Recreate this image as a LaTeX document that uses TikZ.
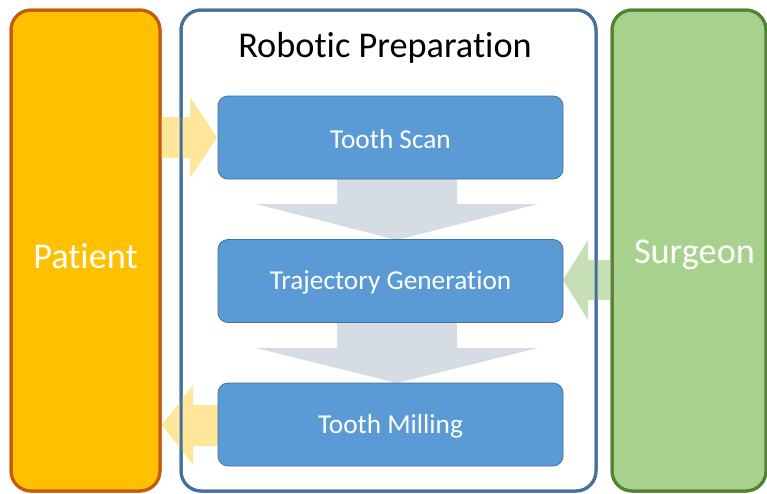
\documentclass[tikz,border=0pt]{standalone}
\usepackage{fontspec}
\setmainfont{Carlito}[RawFeature=-liga]
\definecolor{patfill}{HTML}{FFC000}
\definecolor{patline}{HTML}{C55A11}
\definecolor{surfill}{HTML}{A9D18E}
\definecolor{surline}{HTML}{548235}
\definecolor{boxline}{HTML}{41719C}
\definecolor{stepfill}{HTML}{5B9BD5}
\definecolor{downfill}{HTML}{D6DCE4}
\definecolor{yarrow}{HTML}{FFE699}
\definecolor{garrow}{HTML}{C5E0B4}
\tikzset{
  bigbox/.style={rounded corners=20pt, line width=3pt, inner sep=0pt},
  stepbox/.style={draw=boxline, fill=stepfill, line width=0.8pt, rounded corners=10pt,
    minimum width=345pt, minimum height=83pt, inner sep=0pt, text=white, font=\fontsize{27.3}{30}\selectfont},
  bigtext/.style={font=\fontsize{36.3}{40}\selectfont},
}
\begin{document}
\begin{tikzpicture}[x=1pt,y=-1pt]
\useasboundingbox (0,0) rectangle (767,493);
\begin{scope}
\clip (0,0) rectangle (767,493);
% big boxes
\draw[bigbox, draw=patline, fill=patfill] (11,10) rectangle (160,491);
\draw[bigbox, draw=boxline, fill=white] (181,10) rectangle (596,491);
\draw[bigbox, draw=surline, fill=surfill] (612,10) rectangle (766,491);
\end{scope}
\node[bigtext, text=white] (patient) at (85.5,256) {Patient};
\node[bigtext, text=white] (surgeon) at (694.5,255) {Surgeon};
\node[bigtext, text=black] (title) at (385,48) {Robotic Preparation};
% side arrows (drawn before step boxes)
\fill[yarrow] (160,117) -- (190,117) -- (190,97) -- (217,137.5) -- (190,178) -- (190,158) -- (160,158) -- cycle;
\fill[garrow] (611,260) -- (588,260) -- (588,240) -- (563,280) -- (588,320) -- (588,300) -- (611,300) -- cycle;
\fill[yarrow] (218,405) -- (193,405) -- (193,385) -- (162,425) -- (193,465) -- (193,446) -- (218,446) -- cycle;
% redraw outer box border over the side arrows
\draw[bigbox, draw=boxline] (181,10) rectangle (596,491);
\begin{scope}
\clip (0,0) rectangle (767,493);
\draw[bigbox, draw=surline] (612,10) rectangle (766,491);
\end{scope}
\draw[bigbox, draw=patline] (11,10) rectangle (160,491);
% down arrows
\fill[downfill] (337,178) -- (457,178) -- (457,204) -- (538,204) -- (397,240) -- (256,204) -- (337,204) -- cycle;
\fill[downfill] (337,321) -- (457,321) -- (457,348) -- (538,348) -- (397,383) -- (256,348) -- (337,348) -- cycle;
% step boxes
\node[stepbox] (scan) at (390.5,137.5) {};
\node[stepbox] (traj) at (390.5,281) {};
\node[stepbox] (mill) at (390.5,424.5) {};
\node[text=white, font=\fontsize{27.3}{30}\selectfont] (scantext) at ([yshift=-1.5pt]scan.center) {Tooth Scan};
\node[text=white, font=\fontsize{27.3}{30}\selectfont] (trajtext) at ([yshift=-1.5pt]traj.center) {Trajectory Generation};
\node[text=white, font=\fontsize{27.3}{30}\selectfont] (milltext) at ([yshift=-1.5pt]mill.center) {Tooth Milling};
\end{tikzpicture}
\end{document}
